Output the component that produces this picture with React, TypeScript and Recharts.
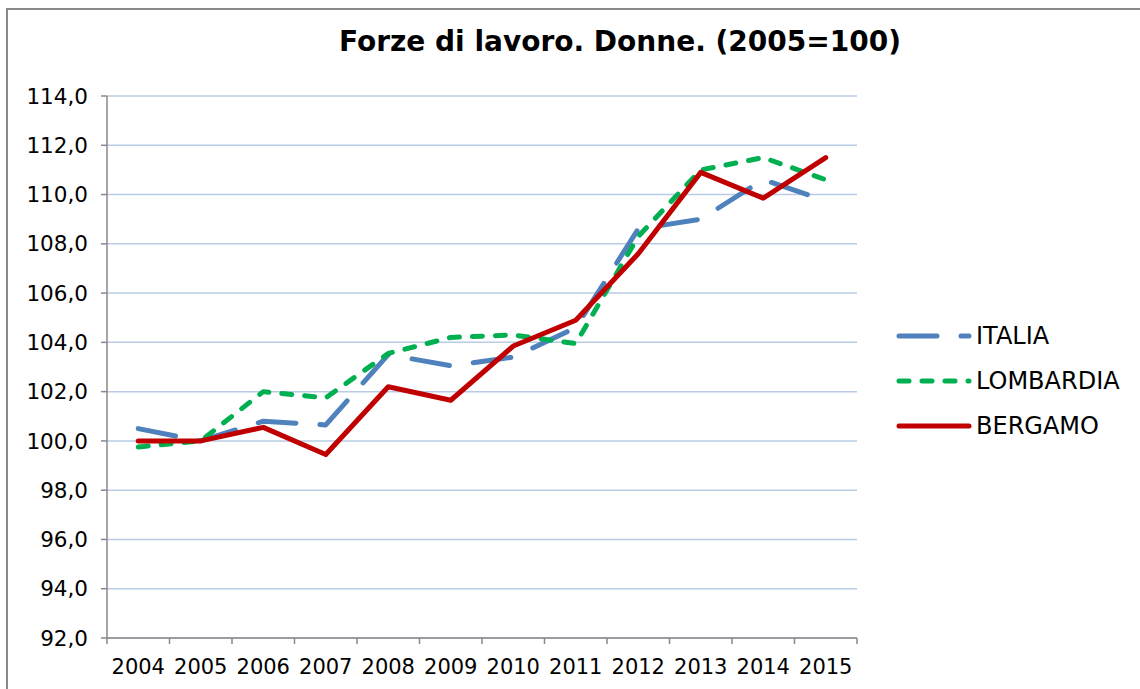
import React from "react";
import {
  CartesianGrid,
  Line,
  LineChart,
  XAxis,
  YAxis,
} from "recharts";

const years = [
  "2004", "2005", "2006", "2007", "2008", "2009",
  "2010", "2011", "2012", "2013", "2014", "2015",
];
const italia = [100.5, 100.0, 100.8, 100.65, 103.5, 103.05, 103.4, 104.6, 108.6, 109.0, 110.6, 109.75];
const lombardia = [99.75, 100.0, 102.0, 101.75, 103.55, 104.2, 104.3, 103.95, 108.3, 111.0, 111.5, 110.6];
const bergamo = [100.0, 100.0, 100.55, 99.45, 102.2, 101.65, 103.85, 104.9, 107.6, 110.9, 109.85, 111.5];
const yTicks = [92, 94, 96, 98, 100, 102, 104, 106, 108, 110, 112, 114];

const FONT = "'DejaVu Sans', Verdana, sans-serif";
const AXIS = "#898989";

type SeriesDef = { key: string; name: string; color: string; dash?: string };
const series: SeriesDef[] = [
  { key: "italia", name: "ITALIA", color: "#4f81bd", dash: "38 24" },
  { key: "lombardia", name: "LOMBARDIA", color: "#00b050", dash: "10 13" },
  { key: "bergamo", name: "BERGAMO", color: "#c00000" },
];

// category centres sit half a slot in, as in Excel
const data = years.map((year, i) => ({
  pos: i + 0.5,
  year,
  italia: italia[i],
  lombardia: lombardia[i],
  bergamo: bergamo[i],
}));
const labelTicks = years.map((_, i) => i + 0.5);
const slotTicks = Array.from({ length: years.length + 1 }, (_, i) => i);

const fmt = (v: number) => v.toFixed(1).replace(".", ",");

const LegendBox = function () {
  return (
    <div
      style={{
        position: "absolute",
        left: 895,
        top: 313,
        width: 240,
        fontFamily: FONT,
        fontSize: 24,
        color: "#000",
      }}
    >
      {series.map((s) => (
        <div
          key={s.key}
          style={{ display: "flex", alignItems: "center", height: 45 }}
        >
          <svg width={81} height={10} style={{ display: "block" }}>
            <line
              x1={4}
              y1={5}
              x2={74}
              y2={5}
              stroke={s.color}
              strokeWidth={5}
              strokeLinecap="round"
              strokeDasharray={s.dash}
            />
          </svg>
          <span style={{ lineHeight: 1 }}>{s.name}</span>
        </div>
      ))}
    </div>
  );
};

const App = function () {
  return (
    <div
      style={{
        position: "absolute",
        left: 0,
        top: 0,
        width: 1140,
        height: 689,
        overflow: "hidden",
        background: "#fff",
      }}
    >
      <div
        style={{
          position: "absolute",
          left: 6,
          top: 8,
          width: 1200,
          height: 800,
          borderLeft: `2px solid ${AXIS}`,
          borderTop: `2px solid ${AXIS}`,
        }}
      />
      <div
        style={{
          position: "absolute",
          left: 120,
          top: 28,
          width: 1000,
          textAlign: "center",
          fontFamily: FONT,
          fontWeight: "bold",
          fontSize: 28,
          lineHeight: 1,
          color: "#000",
        }}
      >
        Forze di lavoro. Donne. (2005=100)
      </div>
      <LineChart
        width={1140}
        height={689}
        data={data}
        margin={{ top: 96, right: 283, left: 0, bottom: 0 }}
        style={{ position: "absolute", left: 0, top: 0 }}
      >
        <CartesianGrid stroke="#b9cbe6" strokeWidth={1.5} vertical={false} />
        {/* axis "a": line + boundary tick marks, sits on the plot edge */}
        <XAxis
          xAxisId="a"
          type="number"
          dataKey="pos"
          domain={[0, years.length]}
          ticks={slotTicks}
          interval={0}
          tickFormatter={() => ""}
          tick={{ fill: "none", fontSize: 1 }}
          height={1}
          tickSize={6}
          axisLine={{ stroke: AXIS, strokeWidth: 1.5 }}
          tickLine={{ stroke: AXIS, strokeWidth: 1.5 }}
        />
        {/* axis "b": year labels at slot centres */}
        <XAxis
          xAxisId="b"
          type="number"
          dataKey="pos"
          domain={[0, years.length]}
          ticks={labelTicks}
          tickFormatter={(v: number) => years[Math.floor(v)]}
          interval={0}
          height={50}
          axisLine={false}
          tickLine={false}
          tickSize={0}
          tickMargin={20}
          tick={{ fill: "#000", fontSize: 21, fontFamily: FONT }}
        />
        <YAxis
          type="number"
          domain={[92, 114]}
          ticks={yTicks}
          interval={0}
          width={107}
          tickFormatter={fmt}
          tickSize={6}
          tickMargin={13}
          axisLine={{ stroke: AXIS, strokeWidth: 1.5 }}
          tickLine={{ stroke: AXIS, strokeWidth: 1.5 }}
          tick={{ fill: "#000", fontSize: 21.5, fontFamily: FONT }}
        />
        {series.map((s) => (
          <Line
            key={s.key}
            xAxisId="b"
            type="linear"
            dataKey={s.key}
            name={s.name}
            stroke={s.color}
            strokeWidth={5}
            strokeDasharray={s.dash}
            strokeLinecap="round"
            strokeLinejoin="round"
            dot={false}
            activeDot={false}
            isAnimationActive={false}
          />
        ))}
      </LineChart>
      <LegendBox />
    </div>
  );
};

export default App;
